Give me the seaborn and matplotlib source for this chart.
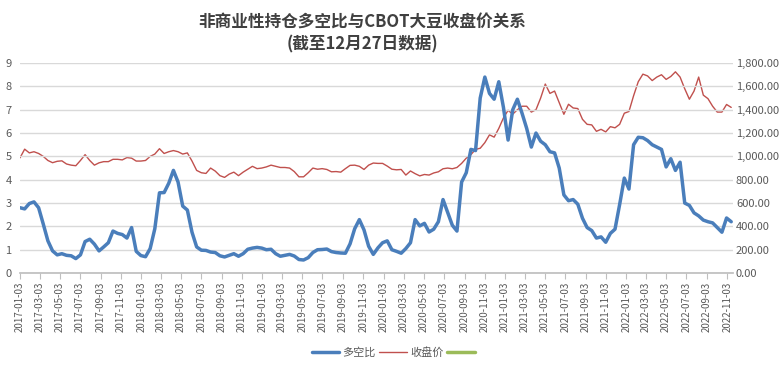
import numpy as np
import pandas as pd
import matplotlib
matplotlib.use("Agg")
import matplotlib.pyplot as plt
import matplotlib.dates as mdates
from matplotlib.lines import Line2D
import seaborn as sns

# ---------------------------------------------------------------------
# data (one value every two weeks)
# ---------------------------------------------------------------------

title = "非商业性持仓多空比与CBOT大豆收盘价关系\n(截至12月27日数据)"
series_names = ["多空比", "收盘价", ""]

start_date = "2017-01-03"

ratio = [2.8, 2.75, 2.98, 3.05, 2.8, 2.1, 1.38, 0.95, 0.78, 0.83,
         0.76, 0.74, 0.62, 0.78, 1.35, 1.45, 1.24, 0.95, 1.12, 1.3,
         1.8, 1.7, 1.65, 1.5, 1.95, 0.93, 0.75, 0.7, 1.05, 1.9,
         3.44, 3.45, 3.85, 4.4, 3.9, 2.87, 2.7, 1.75, 1.12, 0.98,
         0.97, 0.9, 0.88, 0.74, 0.69, 0.76, 0.83, 0.72, 0.83, 1.02,
         1.07, 1.1, 1.07, 1.0, 1.02, 0.83, 0.72, 0.76, 0.8, 0.73,
         0.58, 0.56, 0.66, 0.88, 1.0, 1.01, 1.03, 0.92, 0.88, 0.86,
         0.85, 1.25, 1.9, 2.29, 1.85, 1.15, 0.8, 1.08, 1.3, 1.38,
         1.0, 0.93, 0.85, 1.05, 1.3, 2.29, 2.02, 2.13, 1.76, 1.88,
         2.2, 3.15, 2.6, 2.05, 1.8, 3.9, 4.3, 5.3, 5.25, 7.5,
         8.4, 7.7, 7.45, 8.2, 7.1, 5.7, 7.0, 7.45, 6.85, 6.2,
         5.4, 6.0, 5.65, 5.5, 5.2, 5.15, 4.5, 3.35, 3.1, 3.15,
         2.95, 2.35, 1.95, 1.82, 1.5, 1.55, 1.32, 1.7, 1.88, 2.94,
         4.07, 3.6, 5.5, 5.82, 5.8, 5.68, 5.5, 5.4, 5.3, 4.55,
         4.9, 4.4, 4.75, 3.0, 2.9, 2.58, 2.45, 2.27, 2.2, 2.15,
         1.95, 1.75, 2.36, 2.2]

close_price = [988, 1062, 1030, 1040, 1025, 1000, 965, 946, 958, 962,
               935, 925, 920, 965, 1015, 965, 925, 945, 955, 955,
               975, 975, 970, 990, 985, 960, 960, 965, 1000, 1020,
               1066, 1025, 1040, 1050, 1040, 1020, 1030, 960, 880, 860,
               854, 900, 874, 835, 820, 848, 865, 835, 865, 890,
               915, 895, 900, 910, 925, 915, 905, 905, 900, 870,
               825, 825, 860, 900, 890, 895, 888, 868, 870, 865,
               895, 923, 925, 915, 888, 925, 943, 940, 940, 917,
               890, 885, 888, 840, 875, 852, 833, 845, 840, 858,
               868, 894, 900, 894, 905, 940, 985, 1015, 1060, 1070,
               1118, 1185, 1165, 1240, 1330, 1395, 1362, 1400, 1430, 1430,
               1380, 1400, 1500, 1620, 1540, 1560, 1460, 1361, 1447, 1415,
               1410, 1318, 1275, 1270, 1215, 1232, 1210, 1255, 1245, 1275,
               1370, 1385, 1520, 1640, 1705, 1690, 1650, 1680, 1700, 1660,
               1685, 1725, 1680, 1580, 1490, 1560, 1680, 1525, 1495, 1430,
               1380, 1380, 1445, 1420]

dates = pd.date_range(start_date, periods=len(ratio), freq="14D")
df = pd.DataFrame({"date": dates, "ratio": ratio, "price": close_price})

# x tick labels: every two months on the 3rd
tick_dates = pd.date_range(start_date, "2022-11-03", freq=pd.DateOffset(months=2))

blue = "#4a7ebb"
red = "#c0504d"
green = "#9bbb59"
grey = "#595959"

# ---------------------------------------------------------------------
# plot
# ---------------------------------------------------------------------

sns.set_theme(style="white")
plt.rcParams["font.family"] = ["Noto Sans CJK SC", "DejaVu Sans"]

fig = plt.figure(figsize=(7.82, 3.71), dpi=100)
ax = fig.add_axes([0.0256, 0.264, 0.912, 0.566])
ax2 = ax.twinx()

sns.lineplot(data=df, x="date", y="price", ax=ax2, color=red, linewidth=1.0)
sns.lineplot(data=df, x="date", y="ratio", ax=ax, color=blue, linewidth=2.5)

ax.set_zorder(ax2.get_zorder() + 1)
ax.patch.set_visible(False)

ax.set_ylim(0, 9)
ax.set_yticks(range(0, 10))
ax2.set_ylim(0, 1800)
ax2.set_yticks(range(0, 2000, 200))
ax2.set_yticklabels([f"{v:,.2f}" for v in range(0, 2000, 200)])

ax.set_xlim(pd.Timestamp(start_date), pd.Timestamp("2022-11-21"))
ax.set_xticks(tick_dates)
ax.set_xticklabels([d.strftime("%Y-%m-%d") for d in tick_dates], rotation=90)

ax.yaxis.grid(True, color="#d9d9d9", linewidth=1.0)
ax.set_axisbelow(True)
ax2.grid(False)

for a in (ax, ax2):
    a.set_xlabel("")
    a.set_ylabel("")
    for s in a.spines.values():
        s.set_visible(False)
ax.spines["bottom"].set_visible(True)
ax.spines["bottom"].set_color("#bfbfbf")

ax.tick_params(axis="x", colors=grey, labelsize=7, length=4, width=0.8,
               direction="out", pad=2, color="#bfbfbf", bottom=True)
ax.tick_params(axis="y", colors=grey, labelsize=8, length=0, pad=6)
ax2.tick_params(axis="y", colors=grey, labelsize=8, length=0, pad=2)

fig.text(0.463, 0.962, title, ha="center", va="top", fontsize=12,
         fontweight="bold", color="#404040", linespacing=1.25)

handles = [Line2D([], [], color=blue, linewidth=2.5),
           Line2D([], [], color=red, linewidth=1.0),
           Line2D([], [], color=green, linewidth=2.5)]
fig.legend(handles, series_names, loc="center", bbox_to_anchor=(0.505, 0.05),
           ncol=3, frameon=False, fontsize=8, handlelength=2.5,
           columnspacing=0.3, handletextpad=0.3, labelcolor=grey)

fig.savefig("out.png", dpi=100)
